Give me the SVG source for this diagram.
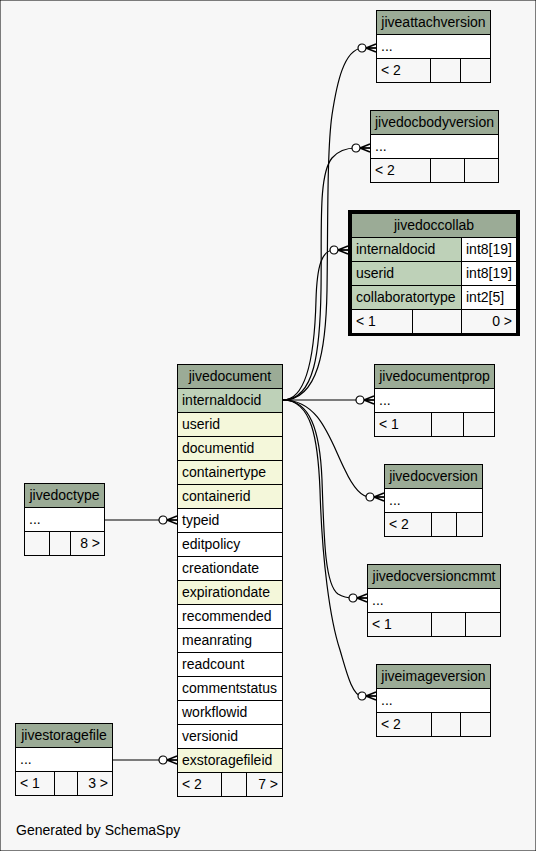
<svg xmlns="http://www.w3.org/2000/svg" width="536" height="851" viewBox="0 0 536 851">
<defs>
<style>
text{font-family:"Liberation Sans",Arial,Helvetica,sans-serif;font-size:14px;fill:#000}
.m{text-anchor:middle}
.e{text-anchor:end}
rect{stroke:#000;stroke-width:1}
.hd{fill:#9bab96}
.pk{fill:#bed1b8}
.ix{fill:#f4f7da}
.pl{fill:#fff}
.ft{fill:#f7f7f7}
.thick{fill:none;stroke-width:3}
.edge{fill:none;stroke:#000;stroke-width:1.2;marker-end:url(#crowodot)}
.plain{fill:none;stroke:#000;stroke-width:1.2}
</style>
<marker id="crowodot" viewBox="-20 -6 22 12" markerWidth="22" markerHeight="12" refX="0" refY="0" orient="auto" markerUnits="userSpaceOnUse">
<path d="M-10,0 L0,-4 M-10,0 L0,0 M-10,0 L0,4" fill="none" stroke="#000" stroke-width="1.5"/>
<circle cx="-14" cy="0" r="4" fill="#fff" stroke="#000" stroke-width="1.2"/>
</marker>
</defs>
<rect x="0" y="0" width="536" height="851" fill="#f7f7f7" stroke="none"/>

<g id="connectors">
<path class="edge" d="M283,400 C318,400 326,350 327,290 C328,220 327,150 332,115 C337,82 344,50 362,48 L376,48"/>
<path class="edge" d="M283,400 C315,400 320,350 321,290 C322,230 318,175 332,158 C338,151 345,148 356,148 L370,148"/>
<path class="edge" d="M283,400 C310,400 315,340 316,300 C317,265 322,250 334,250 L348,250"/>
<path class="edge" d="M283,400 L374,400"/>
<path class="edge" d="M283,400 C320,400 330,440 345,470 C352,485 360,497 370,497 L384,497"/>
<path class="edge" d="M283,400 C310,400 320,430 322,480 C324,540 325,585 338,594 C343,597 348,598 353,598 L367,598"/>
<path class="edge" d="M283,400 C312,400 318,440 320,490 C322,560 330,620 340,650 C346,670 352,696 362,696 L376,696"/>
<path class="edge" d="M104.5,520 L177,520"/>
<path class="edge" d="M112.5,760 L177,760"/>
</g>

<g id="jiveattachversion">
<rect class="hd" x="376.5" y="10.5" width="114" height="24"/>
<text class="m" x="433.5" y="26.5">jiveattachversion</text>
<rect class="pl" x="376.5" y="34.5" width="114" height="24"/>
<text x="381" y="50.5">...</text>
<rect class="ft" x="376.5" y="58.5" width="54" height="24"/>
<rect class="ft" x="430.5" y="58.5" width="30" height="24"/>
<rect class="ft" x="460.5" y="58.5" width="30" height="24"/>
<text x="381" y="74.5">&lt; 2</text>
</g>

<g id="jivedocbodyversion">
<rect class="hd" x="370.5" y="110.5" width="128" height="24"/>
<text class="m" x="434.5" y="126.5">jivedocbodyversion</text>
<rect class="pl" x="370.5" y="134.5" width="128" height="24"/>
<text x="375" y="150.5">...</text>
<rect class="ft" x="370.5" y="158.5" width="60" height="24"/>
<rect class="ft" x="430.5" y="158.5" width="34" height="24"/>
<rect class="ft" x="464.5" y="158.5" width="34" height="24"/>
<text x="375" y="174.5">&lt; 2</text>
</g>

<g id="jivedoccollab">
<rect class="hd" x="351.5" y="213.5" width="165" height="24"/>
<text class="m" x="434" y="229.5">jivedoccollab</text>
<rect class="pk" x="351.5" y="237.5" width="110" height="24"/>
<rect class="pl" x="461.5" y="237.5" width="55" height="24"/>
<text x="356" y="253.5">internaldocid</text>
<text x="466" y="253.5">int8[19]</text>
<rect class="pk" x="351.5" y="261.5" width="110" height="24"/>
<rect class="pl" x="461.5" y="261.5" width="55" height="24"/>
<text x="356" y="277.5">userid</text>
<text x="466" y="277.5">int8[19]</text>
<rect class="pk" x="351.5" y="285.5" width="110" height="24"/>
<rect class="pl" x="461.5" y="285.5" width="55" height="24"/>
<text x="356" y="301.5">collaboratortype</text>
<text x="466" y="301.5">int2[5]</text>
<rect class="ft" x="351.5" y="309.5" width="61" height="24"/>
<rect class="ft" x="412.5" y="309.5" width="49" height="24"/>
<rect class="ft" x="461.5" y="309.5" width="55" height="24"/>
<text x="356" y="325.5">&lt; 1</text>
<text class="e" x="512" y="325.5">0 &gt;</text>
<rect class="thick" x="349.5" y="211.5" width="169" height="123"/>
</g>

<g id="jivedocumentprop">
<rect class="hd" x="374.5" y="364.5" width="120" height="24"/>
<text class="m" x="434.5" y="380.5">jivedocumentprop</text>
<rect class="pl" x="374.5" y="388.5" width="120" height="24"/>
<text x="379" y="404.5">...</text>
<rect class="ft" x="374.5" y="412.5" width="57" height="24"/>
<rect class="ft" x="431.5" y="412.5" width="32" height="24"/>
<rect class="ft" x="463.5" y="412.5" width="31" height="24"/>
<text x="379" y="428.5">&lt; 1</text>
</g>

<g id="jivedocversion">
<rect class="hd" x="384.5" y="464.5" width="98" height="24"/>
<text class="m" x="433.5" y="480.5">jivedocversion</text>
<rect class="pl" x="384.5" y="488.5" width="98" height="24"/>
<text x="389" y="504.5">...</text>
<rect class="ft" x="384.5" y="512.5" width="47" height="24"/>
<rect class="ft" x="431.5" y="512.5" width="25" height="24"/>
<rect class="ft" x="456.5" y="512.5" width="26" height="24"/>
<text x="389" y="528.5">&lt; 2</text>
</g>

<g id="jivedocversioncmmt">
<rect class="hd" x="367.5" y="564.5" width="133" height="24"/>
<text class="m" x="434" y="580.5">jivedocversioncmmt</text>
<rect class="pl" x="367.5" y="588.5" width="133" height="24"/>
<text x="372" y="604.5">...</text>
<rect class="ft" x="367.5" y="612.5" width="64" height="24"/>
<rect class="ft" x="431.5" y="612.5" width="34" height="24"/>
<rect class="ft" x="465.5" y="612.5" width="35" height="24"/>
<text x="372" y="628.5">&lt; 1</text>
</g>

<g id="jiveimageversion">
<rect class="hd" x="376.5" y="664.5" width="114" height="24"/>
<text class="m" x="433.5" y="680.5">jiveimageversion</text>
<rect class="pl" x="376.5" y="688.5" width="114" height="24"/>
<text x="381" y="704.5">...</text>
<rect class="ft" x="376.5" y="712.5" width="55" height="24"/>
<rect class="ft" x="431.5" y="712.5" width="29" height="24"/>
<rect class="ft" x="460.5" y="712.5" width="30" height="24"/>
<text x="381" y="728.5">&lt; 2</text>
</g>

<g id="jivedoctype">
<rect class="hd" x="24.5" y="483.5" width="80" height="24"/>
<text class="m" x="64.5" y="499.5">jivedoctype</text>
<rect class="pl" x="24.5" y="507.5" width="80" height="24"/>
<text x="29" y="523.5">...</text>
<rect class="ft" x="24.5" y="531.5" width="25" height="24"/>
<rect class="ft" x="49.5" y="531.5" width="21" height="24"/>
<rect class="ft" x="70.5" y="531.5" width="34" height="24"/>
<text class="e" x="100" y="547.5">8 &gt;</text>
</g>

<g id="jivestoragefile">
<rect class="hd" x="15.5" y="723.5" width="97" height="24"/>
<text class="m" x="64" y="739.5">jivestoragefile</text>
<rect class="pl" x="15.5" y="747.5" width="97" height="24"/>
<text x="20" y="763.5">...</text>
<rect class="ft" x="15.5" y="771.5" width="39" height="24"/>
<rect class="ft" x="54.5" y="771.5" width="23" height="24"/>
<rect class="ft" x="77.5" y="771.5" width="35" height="24"/>
<text x="20" y="787.5">&lt; 1</text>
<text class="e" x="108" y="787.5">3 &gt;</text>
</g>

<g id="jivedocument">
<rect class="hd" x="177.5" y="364.5" width="105" height="24"/>
<text class="m" x="230" y="380.5">jivedocument</text>
<rect class="pk" x="177.5" y="388.5" width="105" height="24"/>
<text x="182" y="404.5">internaldocid</text>
<rect class="ix" x="177.5" y="412.5" width="105" height="24"/>
<text x="182" y="428.5">userid</text>
<rect class="ix" x="177.5" y="436.5" width="105" height="24"/>
<text x="182" y="452.5">documentid</text>
<rect class="ix" x="177.5" y="460.5" width="105" height="24"/>
<text x="182" y="476.5">containertype</text>
<rect class="ix" x="177.5" y="484.5" width="105" height="24"/>
<text x="182" y="500.5">containerid</text>
<rect class="pl" x="177.5" y="508.5" width="105" height="24"/>
<text x="182" y="524.5">typeid</text>
<rect class="pl" x="177.5" y="532.5" width="105" height="24"/>
<text x="182" y="548.5">editpolicy</text>
<rect class="pl" x="177.5" y="556.5" width="105" height="24"/>
<text x="182" y="572.5">creationdate</text>
<rect class="ix" x="177.5" y="580.5" width="105" height="24"/>
<text x="182" y="596.5">expirationdate</text>
<rect class="pl" x="177.5" y="604.5" width="105" height="24"/>
<text x="182" y="620.5">recommended</text>
<rect class="pl" x="177.5" y="628.5" width="105" height="24"/>
<text x="182" y="644.5">meanrating</text>
<rect class="pl" x="177.5" y="652.5" width="105" height="24"/>
<text x="182" y="668.5">readcount</text>
<rect class="pl" x="177.5" y="676.5" width="105" height="24"/>
<text x="182" y="692.5">commentstatus</text>
<rect class="pl" x="177.5" y="700.5" width="105" height="24"/>
<text x="182" y="716.5">workflowid</text>
<rect class="pl" x="177.5" y="724.5" width="105" height="24"/>
<text x="182" y="740.5">versionid</text>
<rect class="ix" x="177.5" y="748.5" width="105" height="24"/>
<text x="182" y="764.5">exstoragefileid</text>
<rect class="ft" x="177.5" y="772.5" width="44" height="24"/>
<rect class="ft" x="221.5" y="772.5" width="25" height="24"/>
<rect class="ft" x="246.5" y="772.5" width="36" height="24"/>
<text x="182" y="788.5">&lt; 2</text>
<text class="e" x="278" y="788.5">7 &gt;</text>
</g>

<text x="16" y="835">Generated by SchemaSpy</text>
</svg>
